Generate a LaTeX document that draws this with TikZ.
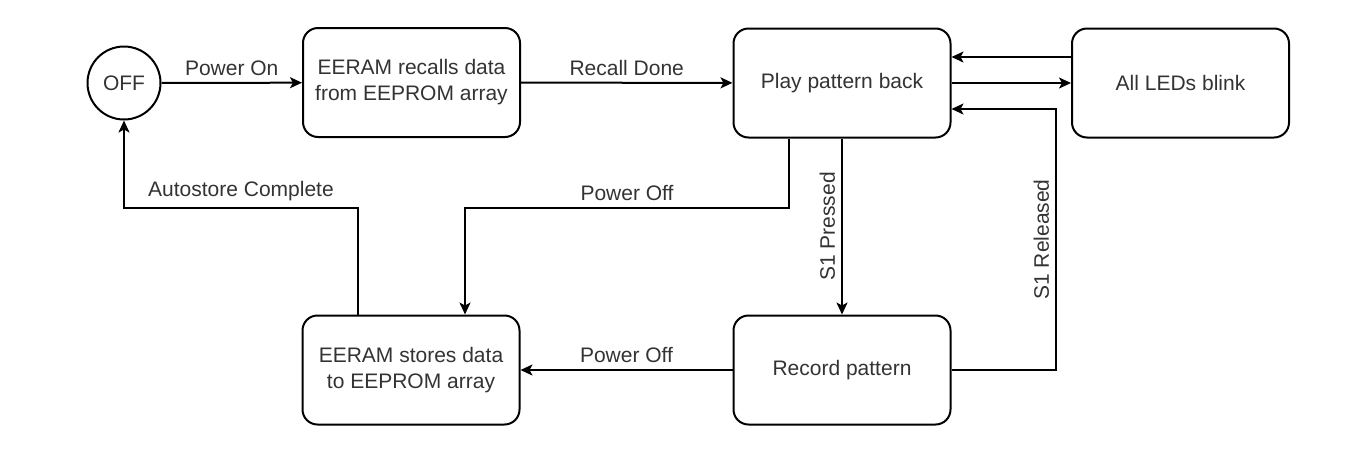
\documentclass[tikz,border=0pt]{standalone}
\usepackage{fontspec}
\setmainfont{Liberation Sans}
\usetikzlibrary{arrows.meta,positioning}
\definecolor{txt}{HTML}{333333}

\begin{document}
\begin{tikzpicture}[x=0.5pt,y=-0.5pt]
\tikzset{st/.style={draw, rounded corners=7.5pt, minimum width=108.5pt, minimum height=54.5pt, align=center}}
\tikzset{lb/.style={fill=none, inner sep=3pt}}

\useasboundingbox (0,0) rectangle (1359,451);

\begin{scope}[every node/.style={line width=1pt, text=txt, font=\fontsize{10.5}{13}\selectfont}]
\node [circle, draw=black, minimum size=36.5pt] (OFF) at (124,83) {OFF};
\node [st, draw=black] (recall) at (411.5,82.5) {EERAM recalls data\\from EEPROM array};
\node [st, draw=black] (play) at (842,83) {Play pattern back};
\node [st, draw=black] (blink) at (1180.5,83) {All LEDs blink};
\node [st, draw=black] (store) at (411,370) {EERAM stores data\\to EEPROM array};
\node [st, draw=black] (rec) at (842,370) {Record pattern};
\coordinate (auto) at (124,208);
\coordinate (poff) at (465,208);
\coordinate (rel) at (1056,109);
\end{scope}

\begin{scope}[>={Stealth[length=6pt,width=5.5pt,inset=1.5pt]},every node/.style={lb,text=txt,font=\fontsize{10.5}{13}\selectfont},every edge/.style={draw=black,line width=1pt}]
\path (OFF) edge[->] node[above] {Power On} (recall);
\path (recall) edge[->] node[above] {Recall Done} (play);
\path (play) edge[->] (blink);
\path ([yshift=13pt]blink.west) edge[->] ([yshift=13pt]play.east);
\path (play) edge[->] node[above, rotate=90] {S1 Pressed} (rec);
\path (rec) edge[->] node[above] {Power Off} (store);
\draw[->, line width=1pt] (rec.east) -| node[pos=0.75, above, rotate=90] {S1 Released} (rel) -- ([yshift=-13pt]play.east);
\draw[->, line width=1pt] ([xshift=-26.5pt]play.south) |- node[pos=0.75, above] {Power Off} (poff) -- (poff |- store.north);
\draw[->, line width=1pt] ([xshift=-26.5pt]store.north) |- node[pos=0.75, above] {Autostore Complete} (auto) -- (OFF);
\end{scope}

\end{tikzpicture}
\end{document}
